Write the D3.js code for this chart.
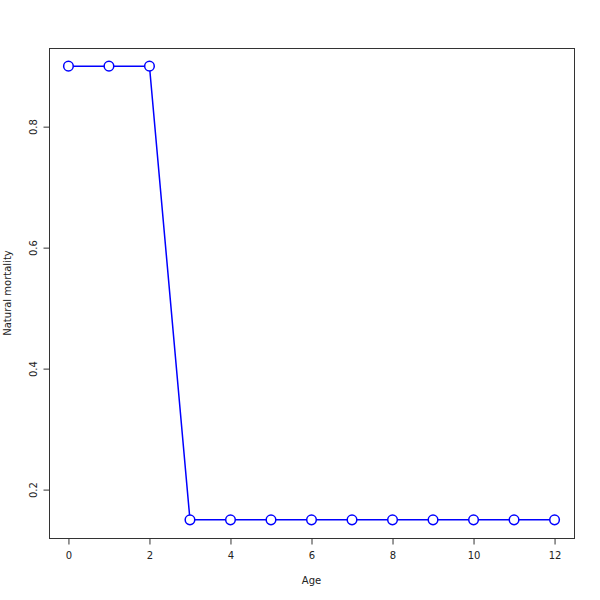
<!DOCTYPE html>
<html><head><meta charset="utf-8">
<script src="https://cdn.jsdelivr.net/npm/d3@7"></script>
<style>body{margin:0;background:#fff}svg{display:block}</style>
</head><body>
<script>
const ages = [0,1,2,3,4,5,6,7,8,9,10,11,12];
const mortality = [0.9,0.9,0.9,0.15,0.15,0.15,0.15,0.15,0.15,0.15,0.15,0.15,0.15];
const xTicks = [0,2,4,6,8,10,12];
const yTicks = [0.2,0.4,0.6,0.8];
const xLabel = "Age";
const yLabel = "Natural mortality";

const W=600,H=600;
const L=49,R=574,T=48,B=538;
const svg=d3.select("body").append("svg").attr("width",W).attr("height",H);
const x=d3.scaleLinear().domain([-0.48,12.48]).range([L,R]);
const y=d3.scaleLinear().domain([0.12,0.93]).range([B,T]);
const font="DejaVu Sans, sans-serif";

svg.append("rect").attr("x",L+0.5).attr("y",T+0.5).attr("width",R-L).attr("height",B-T)
  .attr("fill","none").attr("stroke","#333").attr("stroke-width",1);

const xa=svg.append("g").attr("transform",`translate(0,${B+0.5})`)
  .call(d3.axisBottom(x).tickValues(xTicks).tickFormat(d3.format("d")).tickSize(6).tickPadding(7).tickSizeOuter(0));
xa.select(".domain").attr("d",`M${x(0)},0H${x(12)}`).attr("stroke","#333");
xa.selectAll("line").attr("stroke","#333");
xa.selectAll("text").attr("font-family",font).attr("font-size",10).attr("fill","#222");

const ya=svg.append("g").attr("transform",`translate(${L+0.5},0)`)
  .call(d3.axisLeft(y).tickValues(yTicks).tickFormat(d3.format(".1f")).tickSize(6).tickSizeOuter(0));
ya.select(".domain").attr("d",`M0,${y(0.2)}V${y(0.8)}`).attr("stroke","#333");
ya.selectAll("line").attr("stroke","#333");
ya.selectAll("text").attr("font-family",font).attr("font-size",10).attr("fill","#222")
  .attr("text-anchor","middle").attr("transform","rotate(-90)")
  .attr("x",0).attr("y",-13).attr("dy","0");

svg.append("text").attr("x",(L+R)/2).attr("y",584).attr("text-anchor","middle")
  .attr("font-family",font).attr("font-size",10).attr("fill","#222").text(xLabel);
svg.append("text").attr("transform",`translate(11,${(T+B)/2}) rotate(-90)`).attr("text-anchor","middle")
  .attr("font-family",font).attr("font-size",10).attr("fill","#222").text(yLabel);

const line=d3.line().x((d,i)=>x(ages[i])).y(d=>y(d));
svg.append("path").datum(mortality).attr("d",line).attr("fill","none").attr("stroke","#0000ff").attr("stroke-width",1.5);
svg.selectAll("circle.pt").data(mortality).enter().append("circle")
  .attr("cx",(d,i)=>x(ages[i])).attr("cy",d=>y(d)).attr("r",4.8)
  .attr("fill","#fff").attr("stroke","#0000ff").attr("stroke-width",1.5);
</script>
</body></html>
